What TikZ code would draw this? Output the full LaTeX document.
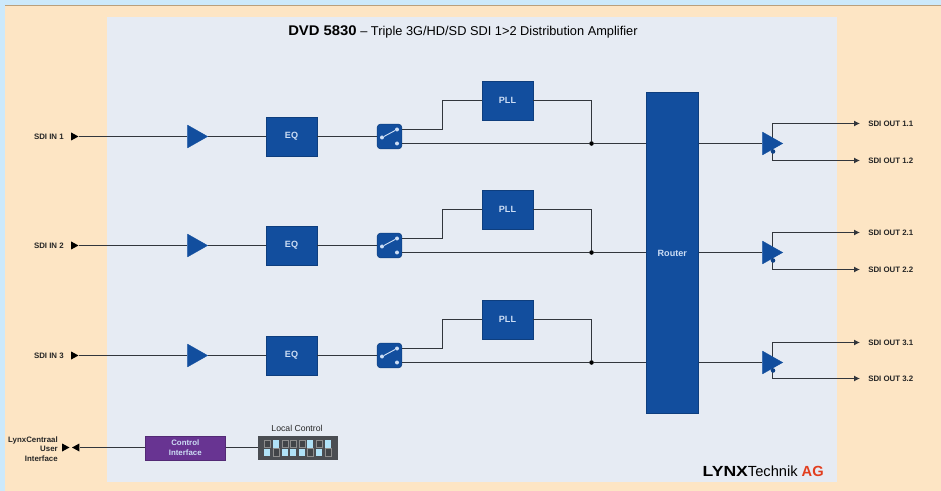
\documentclass[tikz,border=0pt]{standalone}
\usepackage{fontspec}
\setmainfont{Liberation Sans}
\usetikzlibrary{arrows.meta,positioning,calc,shapes.geometric}
\definecolor{cbg}{RGB}{204,233,251}
\definecolor{cframe}{RGB}{253,229,196}
\definecolor{cedge}{RGB}{185,160,125}
\definecolor{cpanel}{RGB}{230,235,243}
\definecolor{cblock}{RGB}{18,78,158}
\definecolor{cpurple}{RGB}{104,52,146}
\definecolor{cwire}{RGB}{50,54,60}
\definecolor{cdip}{RGB}{74,77,82}
\definecolor{cled}{RGB}{176,226,248}
\definecolor{ctxt}{RGB}{205,222,245}
\definecolor{cag}{RGB}{226,62,30}
\tikzset{
  sig/.style={cwire, line width=0.85pt},
  blk/.style={draw=cblock!80!black, fill=cblock, line width=0.4pt, inner sep=0pt,
              minimum width=38.5pt, minimum height=29pt, text=ctxt, font=\fontsize{6.8}{7}\selectfont\bfseries},
  amp/.style={isosceles triangle, isosceles triangle apex angle=60, isosceles triangle stretches,
              fill=cblock, draw=cblock, line width=0.3pt, inner sep=0pt,
              minimum width=17pt, minimum height=15pt, anchor=apex},
  port/.style={isosceles triangle, isosceles triangle apex angle=60, isosceles triangle stretches,
              fill=black, inner sep=0pt, minimum width=6pt, minimum height=5.5pt},
  swbox/.style={draw=cblock!80!black, fill=cblock, rounded corners=2.5pt, inner sep=0pt, minimum size=18.5pt},
  swdot/.style={circle, fill=ctxt, inner sep=0pt, minimum size=3pt},
  jun/.style={circle, fill=black, inner sep=0pt, minimum size=3.4pt},
  plab/.style={font=\fontsize{5.9}{7}\selectfont\bfseries, text=black!85, inner sep=0pt},
  dipcell/.style={draw=black!45, fill=cdip!88!black, line width=0.3pt},
}
\begin{document}
\begin{tikzpicture}[x=0.75pt,y=-0.75pt]
  \useasboundingbox (0,0) rectangle (941,491);
  \fill[cbg] (0,0) rectangle (941,491);
  \fill[cframe] (5,5) rectangle (941,491);
  \draw[cedge, line width=0.8pt] (5,5.5) -- (941,5.5);
  \fill[cpanel] (107,17) rectangle (836.5,482);

  % title and logo
  \node[anchor=base west, inner sep=0pt, font=\fontsize{9.6}{11}\selectfont] (title) at (288,36)
    {{\fontsize{10.5}{11}\selectfont\bfseries\addfontfeature{FakeStretch=1.06}DVD 5830} -- Triple 3G/HD/SD SDI 1>2 Distribution Amplifier};
  \node[anchor=base east, inner sep=0pt, font=\fontsize{11}{13}\selectfont] (logo) at (824,476)
    {{\bfseries\addfontfeature{FakeStretch=1.2}LYNX}Technik \textcolor{cag}{\textbf{AG}}};

  \node[blk, anchor=north west, minimum width=39pt, minimum height=241pt] (router) at (646,92) {Router};

  \foreach \i/\y/\ya/\yb in {1/136.5/123.5/160.5, 2/245.5/232.5/269.5, 3/355.5/342.5/378.5} {
    \node[port, anchor=apex] (in\i) at (79,\y) {};
    \node[plab, anchor=east] (inlab\i) at (64,\y) {SDI IN \i};
    \node[amp] (drv\i) at (208,\y) {};
    \node[blk] (eq\i) at (291.5,\y) {EQ};
    \node[swbox] (sw\i) at (389.5,\y) {};
    \node[swdot] (swa\i) at (382,\y+1) {};
    \node[swdot] (swb\i) at (397,\y-7) {};
    \node[swdot] (swc\i) at (397,\y+7) {};
    \draw[ctxt, line width=0.7pt] (swa\i) -- (swb\i);
    \node[blk] (pll\i) at (507.5,\y-36) {PLL};
    \node[jun] (tee\i) at (591.5,\y+7) {};
    \coordinate (swup\i) at (402,\y-7);
    \coordinate (kink\i) at (442.5,\y-7);
    \coordinate (tap\i) at (772.5,\y+7);
    \node[plab, anchor=west] (out\i a) at (868,\ya) {SDI OUT \i.1};
    \node[plab, anchor=west] (out\i b) at (868,\yb) {SDI OUT \i.2};
    \draw[sig] (in\i) -- (drv\i);
    \draw[sig] (drv\i) -- (eq\i);
    \draw[sig] (eq\i) -- (sw\i);
    \draw[sig] (swup\i) -- (kink\i) |- (pll\i);
    \draw[sig] (pll\i) -| (tee\i);
    \draw[sig] (sw\i.east |- tee\i) -- (tee\i) -- (tee\i -| router.west);
    \draw[sig, -{Latex[length=4.5pt,width=4.5pt]}, shorten >=6pt] (tap\i) |- (out\i a);
    \draw[sig, -{Latex[length=4.5pt,width=4.5pt]}, shorten >=6pt] (tap\i) |- (out\i b);
    \node[amp] (dist\i) at (783,\y+7) {};
    \node[circle, fill=cblock!85!black, inner sep=0pt, minimum size=3.4pt] (inv\i) at (773,\y+15) {};
    \draw[sig] (tee\i -| router.east) -- (dist\i);
  }

  % control path
  \node[blk, fill=cpurple, draw=cpurple!80!black, anchor=north west, minimum width=60pt, minimum height=18pt,
        align=center, font=\fontsize{5.9}{7.2}\selectfont\bfseries] (ctrl) at (145,435.5) {Control\\Interface};
  \node[fill=cdip, anchor=north west, inner sep=0pt, minimum width=60pt, minimum height=18pt] (dip) at (258,435.5) {};
  \node[font=\fontsize{6.5}{7}\selectfont, text=black!85, inner sep=0pt] (diplab) at (297,428) {Local Control};
  \foreach \n/\x/\up in {1/267/0, 2/276/1, 3/285/0, 4/293/0, 5/302/0, 6/310/1, 7/319/0, 8/328/1} {
    \ifnum\up=1
      \fill[cled] (\x-2.8,440) rectangle (\x+2.8,447.5);
      \draw[dipcell] (\x-2.8,448.5) rectangle (\x+2.8,456);
    \else
      \draw[dipcell] (\x-2.8,440) rectangle (\x+2.8,447.5);
      \fill[cled] (\x-2.8,448.5) rectangle (\x+2.8,456);
    \fi
  }
  \node[port, anchor=apex] (uiin) at (70,447.5) {};
  \node[port, anchor=apex, shape border rotate=180] (uiout) at (71.5,447.5) {};
  \node[plab, anchor=east, align=right, font=\fontsize{5.9}{7.2}\selectfont\bfseries] (uilab) at (58,449)
    {LynxCentraal\\User\\Interface};
  \draw[sig] (ctrl.west) -- (ctrl.west -| uiout.lower side);
  \draw[sig] (ctrl) -- (dip);
\end{tikzpicture}
\end{document}
